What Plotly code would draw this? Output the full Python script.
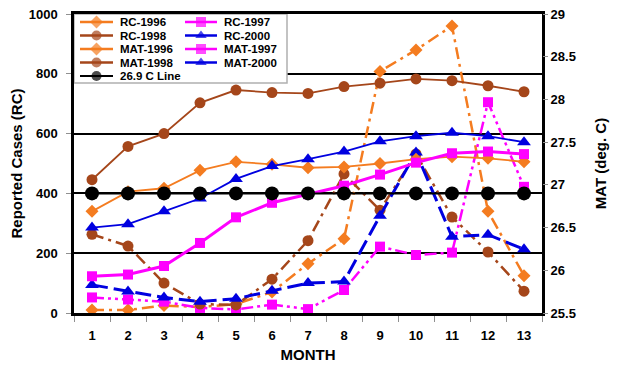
import plotly.graph_objects as go

months = [str(i) for i in range(1, 14)]

rc_1996 = [10, 10, 25, 20, 30, 70, 165, 248, 808, 880, 960, 340, 125]
rc_1997 = [52, 45, 38, 17, 12, 28, 13, 77, 222, 194, 202, 705, 422]
rc_1998 = [263, 224, 100, 30, 27, 113, 242, 465, 344, 532, 321, 204, 73]
rc_2000 = [94, 72, 52, 38, 48, 74, 100, 105, 325, 537, 255, 262, 213]

mat_1996 = [26.69, 26.92, 26.96, 27.17, 27.27, 27.24, 27.20, 27.21, 27.25, 27.30, 27.33, 27.31, 27.27]
mat_1997 = [25.93, 25.95, 26.05, 26.32, 26.62, 26.79, 26.89, 26.99, 27.12, 27.26, 27.37, 27.39, 27.36]
mat_1998 = [27.06, 27.45, 27.60, 27.96, 28.11, 28.08, 28.07, 28.15, 28.19, 28.24, 28.22, 28.16, 28.09]
mat_2000 = [26.50, 26.54, 26.69, 26.84, 27.07, 27.22, 27.30, 27.39, 27.51, 27.57, 27.61, 27.57, 27.50]
line_269 = [26.9] * 13

ORANGE = "#F47C20"
BROWN = "#A5461A"
MAGENTA = "#FF00FF"
BLUE = "#0000E0"
BLACK = "#000000"
FONT = "Liberation Sans"

DASH_DOT = "12px,5px,3px,5px"
DASH_DOT_DOT = "12px,4px,3px,4px,3px,4px"
LONG_DASH = "16px,6px"

styles = {
    "RC-1996": dict(color=ORANGE, dash=DASH_DOT, width=2.5, symbol="diamond", size=10),
    "RC-1997": dict(color=MAGENTA, dash=DASH_DOT_DOT, width=2.5, symbol="square", size=10),
    "RC-1998": dict(color=BROWN, dash=DASH_DOT, width=2.5, symbol="circle", size=11),
    "RC-2000": dict(color=BLUE, dash=LONG_DASH, width=3, symbol="triangle-up", size=12),
    "MAT-1996": dict(color=ORANGE, dash="solid", width=1.8, symbol="diamond", size=10),
    "MAT-1997": dict(color=MAGENTA, dash="solid", width=3, symbol="square", size=10),
    "MAT-1998": dict(color=BROWN, dash="solid", width=1.8, symbol="circle", size=11),
    "MAT-2000": dict(color=BLUE, dash="solid", width=1.8, symbol="triangle-up", size=12),
    "26.9 C Line": dict(color=BLACK, dash="solid", width=2, symbol="circle", size=14),
}

series = [
    ("RC-1996", rc_1996, "y"),
    ("RC-1997", rc_1997, "y"),
    ("RC-1998", rc_1998, "y"),
    ("RC-2000", rc_2000, "y"),
    ("MAT-1996", mat_1996, "y2"),
    ("MAT-1997", mat_1997, "y2"),
    ("MAT-1998", mat_1998, "y2"),
    ("MAT-2000", mat_2000, "y2"),
    ("26.9 C Line", line_269, "y2"),
]

fig = go.Figure()
for name, vals, ax in series:
    s = styles[name]
    fig.add_trace(go.Scatter(
        x=months, y=vals, name=name, yaxis=ax, xaxis="x",
        mode="lines+markers", showlegend=False,
        line=dict(color=s["color"], dash=s["dash"], width=s["width"]),
        marker=dict(color=s["color"], symbol=s["symbol"], size=s["size"], line=dict(width=0)),
    ))

# Manual two-column legend drawn on a hidden overlay axis measured in pixels
PLOT_W, PLOT_H = 468, 299
BOX_W, BOX_H = 213, 69
fig.add_trace(go.Scatter(
    x=[0, BOX_W, BOX_W, 0, 0], y=[0, 0, BOX_H, BOX_H, 0], xaxis="x3", yaxis="y3",
    mode="lines", fill="toself", fillcolor="white", showlegend=False, hoverinfo="skip",
    line=dict(color="#B0B0B0", width=1.5),
))
legend_cols = [
    (["RC-1996", "RC-1998", "MAT-1996", "MAT-1998", "26.9 C Line"], 6, 39, 44),
    (["RC-1997", "RC-2000", "MAT-1997", "MAT-2000"], 111, 143, 148),
]
row_y = [8, 21.5, 35, 48.5, 62]
annotations = []
for names, x0, x1, xt in legend_cols:
    for i, name in enumerate(names):
        s = styles[name]
        yy = row_y[i]
        fig.add_trace(go.Scatter(
            x=[x0, (x0 + x1) / 2, x1], y=[yy, yy, yy], xaxis="x3", yaxis="y3",
            mode="lines+markers", showlegend=False, hoverinfo="skip",
            line=dict(color=s["color"], width=2.5 if name != "26.9 C Line" else 2),
            marker=dict(color=s["color"], symbol=s["symbol"],
                        size=[0, min(s["size"], 10), 0], line=dict(width=0)),
        ))
        annotations.append(dict(
            x=xt, y=yy, xref="x3", yref="y3", text=name, showarrow=False,
            xanchor="left", yanchor="middle",
            font=dict(family=FONT, size=11.5, color="black", weight="bold"),
        ))

tickfont = dict(family=FONT, size=13, color="black", weight="bold")
titlefont = dict(family=FONT, size=15, color="black", weight="bold")

fig.update_layout(
    width=618, height=369,
    margin=dict(l=74, r=76, t=14, b=56, autoexpand=False),
    paper_bgcolor="white", plot_bgcolor="white",
    showlegend=False,
    xaxis=dict(
        type="category", categoryorder="array", categoryarray=months,
        range=[-0.5, 12.5], tickson="boundaries", ticks="outside", ticklen=6,
        tickcolor="#909090", tickwidth=1, showgrid=False,
        showline=True, linecolor="black", linewidth=2.5, mirror=True,
        tickfont=tickfont, ticklabelstandoff=9, automargin=False,
        title=dict(text="MONTH", font=titlefont, standoff=8),
        zeroline=False,
    ),
    yaxis=dict(
        range=[0, 1000], dtick=200, showgrid=True, gridcolor="black", gridwidth=1.5,
        ticks="outside", ticklen=5, tickcolor="#909090",
        showline=True, linecolor="black", linewidth=2.5, mirror=True,
        tickfont=tickfont, ticklabelstandoff=6, zeroline=False, automargin=False,
        title=dict(text="Reported Cases (RC)", font=titlefont, standoff=3),
    ),
    yaxis2=dict(
        range=[25.5, 29], dtick=0.5, overlaying="y", side="right",
        showgrid=False, ticks="outside", ticklen=5, tickcolor="#909090",
        showline=False, tickfont=tickfont, zeroline=False, automargin=False,
        title=dict(text="MAT (deg. C)", font=titlefont, standoff=20),
    ),
    xaxis3=dict(domain=[0, 1], range=[0, PLOT_W], visible=False, anchor="y3", overlaying="x"),
    yaxis3=dict(domain=[0, 1], range=[PLOT_H, 0], visible=False, anchor="x3", overlaying="y"),
    annotations=annotations,
)

fig.write_html("out.html")
